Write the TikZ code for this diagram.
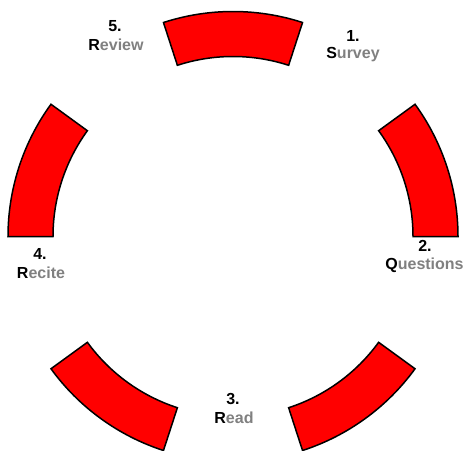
\documentclass[tikz,border=0pt]{standalone}
\usepackage{fontspec}
\setmainfont{Liberation Sans}
\usetikzlibrary{calc}
\definecolor{labgray}{RGB}{128,128,128}
\definecolor{segred}{RGB}{255,0,0}
\begin{document}
\begin{tikzpicture}[x=1pt,y=1pt,
  seg/.style={draw=black,fill=segred,line width=1.5pt,line join=miter},
  num/.style={font=\fontsize{16}{18}\selectfont\bfseries,text=black,inner sep=0pt},
  word/.style={font=\fontsize{16}{18}\selectfont\bfseries,text=labgray,inner sep=0pt}]
\useasboundingbox (0,0) rectangle (465,-450);
\coordinate (c) at (233,-236.5);
\foreach \a in {0,72,144,216,288}{
  \draw[seg] ($(c)+(\a:225pt)$) arc[start angle=\a, end angle=\a+36, radius=225pt]
    -- ($(c)+(\a+36:180pt)$) arc[start angle=\a+36, end angle=\a, radius=180pt] -- cycle;
}
\node[num]  (n1) at (353,-36)   {1.};
\node[word] (w1) at (353,-55)   {\textcolor{black}{S}urvey};
\node[num]  (n2) at (425,-246)  {2.};
\node[word] (w2) at (424.5,-265){\textcolor{black}{Q}uestions};
\node[num]  (n3) at (233,-399)  {3.};
\node[word] (w3) at (234,-418)  {\textcolor{black}{R}ead};
\node[num]  (n4) at (40,-254)   {4.};
\node[word] (w4) at (41,-273)   {\textcolor{black}{R}ecite};
\node[num]  (n5) at (115,-26)   {5.};
\node[word] (w5) at (116,-45)   {\textcolor{black}{R}eview};
\end{tikzpicture}
\end{document}
